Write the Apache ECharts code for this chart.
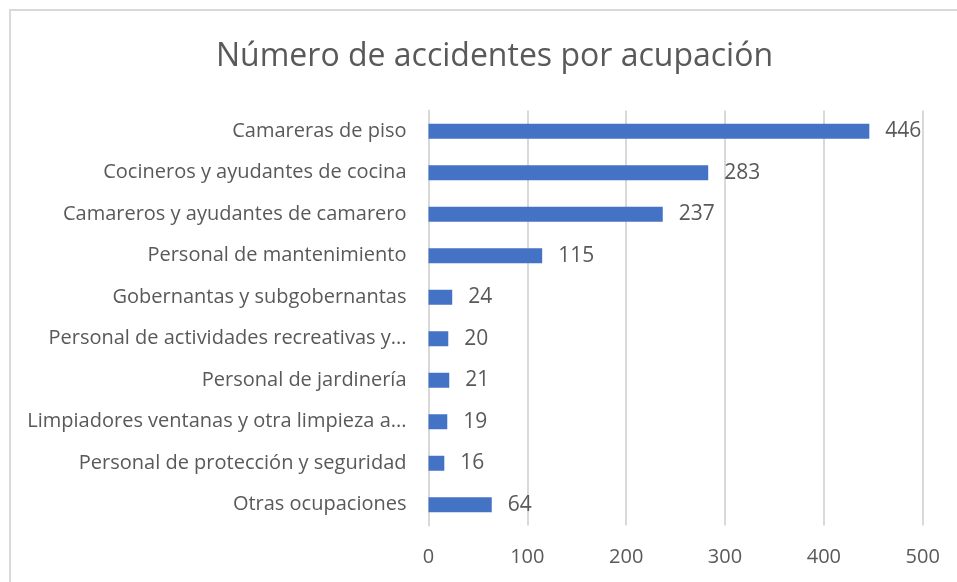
<!DOCTYPE html>
<html>
<head>
<meta charset="utf-8">
<script src="https://cdn.jsdelivr.net/npm/echarts@6/dist/echarts.min.js"></script>
<style>
  html, body { margin: 0; padding: 0; background: #fff; }
  #chart { width: 957px; height: 582px; }
</style>
</head>
<body>
<div id="chart"></div>
<script>
// ocupaciones (de arriba a abajo)
const categories = [
  'Camareras de piso',
  'Cocineros y ayudantes de cocina',
  'Camareros y ayudantes de camarero',
  'Personal de mantenimiento',
  'Gobernantas y subgobernantas',
  'Personal de actividades recreativas y...',
  'Personal de jardinería',
  'Limpiadores ventanas y otra limpieza a...',
  'Personal de protección y seguridad',
  'Otras ocupaciones'
]
const accidentes = [446, 283, 237, 115, 24, 20, 21, 19, 16, 64]
const xTicks = [0, 100, 200, 300, 400, 500]

const txt = '#595959'
const font = '"Open Sans", "Noto Sans", sans-serif'

let chart = echarts.init(document.getElementById('chart'))
chart.setOption({
  animation: false,
  textStyle: { fontFamily: font },
  title: {
    text: 'Número de accidentes por acupación',
    left: 489.5,
    textAlign: 'center',
    top: 36,
    textStyle: { color: txt, fontSize: 32, fontWeight: 'normal', fontFamily: font }
  },
  // marco del gráfico
  graphic: [{
    type: 'rect',
    shape: { x: 10, y: 10, width: 1000, height: 1000 },
    style: { fill: 'none', stroke: '#d9d9d9', lineWidth: 2 },
    silent: true
  }],
  grid: { left: 428.5, right: 34.3, top: 110.5, bottom: 56.5 },
  xAxis: {
    type: 'value',
    min: xTicks[0],
    max: xTicks[xTicks.length - 1],
    interval: 100,
    axisLine: { show: false },
    axisTick: { show: false },
    axisLabel: { color: txt, fontSize: 20, margin: 22 },
    splitLine: { lineStyle: { color: '#d9d9d9', width: 2 } }
  },
  yAxis: {
    type: 'category',
    inverse: true,
    data: categories,
    axisLine: { lineStyle: { color: '#d9d9d9', width: 2 } },
    axisTick: { show: false },
    axisLabel: { color: txt, fontSize: 20, margin: 22 }
  },
  series: [{
    type: 'bar',
    data: accidentes,
    barWidth: 15,
    itemStyle: { color: '#4472C4' },
    label: {
      show: true,
      position: 'right',
      distance: 16,
      color: txt,
      fontSize: 21,
      fontFamily: font
    }
  }]
})
</script>
</body>
</html>
